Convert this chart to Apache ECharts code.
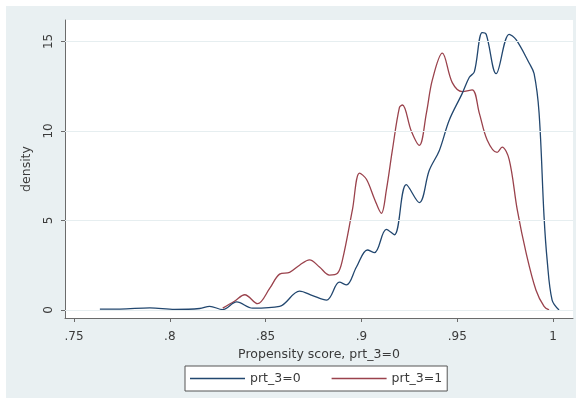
<!DOCTYPE html>
<html>
<head>
<meta charset="utf-8">
<script src="https://cdn.jsdelivr.net/npm/echarts@6/dist/echarts.min.js"></script>
<style>
  html, body { margin: 0; padding: 0; background: #ffffff; }
  #chart { width: 582px; height: 404px; }
</style>
</head>
<body>
<div id="chart"></div>
<script>
// Kernel density of the propensity score, by treatment group
const score0 = [0.7635, 0.774, 0.7896, 0.8026, 0.8156, 0.8208, 0.8276, 0.8349, 0.8432, 0.8573,
  0.8677, 0.8745, 0.8818, 0.8885, 0.8922, 0.8974, 0.9031, 0.9068, 0.913, 0.9172,
  0.9234, 0.9302, 0.9354, 0.9406, 0.9458, 0.9526, 0.9563, 0.9589, 0.963, 0.9651,
  0.9703, 0.9771, 0.9807, 0.9875, 0.9901, 0.9927, 0.9953, 0.9969, 0.9995, 1.0031];
const density0 = [0.05, 0.05, 0.12, 0.03, 0.08, 0.2, 0.02, 0.45, 0.1, 0.2,
  1.05, 0.8, 0.55, 1.55, 1.4, 2.4, 3.35, 3.2, 4.5, 4.2,
  7.0, 6.0, 7.8, 8.9, 10.6, 12.1, 13.0, 13.3, 15.5, 15.4,
  13.2, 15.4, 15.1, 13.8, 13.2, 11.0, 5.2, 2.8, 0.55, 0.0];

const score1 = [0.8276, 0.8339, 0.8391, 0.8458, 0.8521, 0.8573, 0.8625, 0.8677, 0.8729, 0.8781,
  0.8833, 0.8875, 0.8901, 0.8953, 0.899, 0.9026, 0.9068, 0.9104, 0.913, 0.9161,
  0.9198, 0.9214, 0.926, 0.9302, 0.9339, 0.937, 0.9422, 0.9474, 0.9526, 0.9578,
  0.9615, 0.9656, 0.9708, 0.9734, 0.9771, 0.9813, 0.9859, 0.9911, 0.9953, 0.9979];
const density1 = [0.1, 0.5, 0.85, 0.35, 1.2, 2.0, 2.1, 2.5, 2.8, 2.4,
  1.95, 2.05, 2.8, 5.6, 7.65, 7.3, 6.2, 5.4, 6.7, 8.9,
  11.3, 11.45, 10.0, 9.2, 11.0, 12.85, 14.35, 12.7, 12.2, 12.3,
  11.0, 9.5, 8.8, 9.1, 8.4, 5.6, 3.2, 1.1, 0.2, 0.0];

const xTicks = [0.75, 0.8, 0.85, 0.9, 0.95, 1];
const yTicks = [0, 5, 10, 15];
const seriesNames = ['prt_3=0', 'prt_3=1'];

const pairs = (xs, ys) => xs.map((x, i) => [x, ys[i]]);
const fmtX = v => {
  const s = String(Math.round(v * 100) / 100);
  return s.startsWith('0.') ? s.slice(1) : s;
};

const txt = '#3a3a3a';
const font = '"DejaVu Sans", sans-serif';

const chart = echarts.init(document.getElementById('chart'), null, { renderer: 'canvas' });
chart.setOption({
  backgroundColor: '#ffffff',
  animation: false,
  graphic: [{
    type: 'rect', z: -10, silent: true,
    shape: { x: 6, y: 6, width: 570, height: 392 },
    style: { fill: '#e9f0f2' }
  }],
  grid: { left: 65, right: 9, top: 20, bottom: 86, show: true, backgroundColor: '#ffffff', borderWidth: 0 },
  xAxis: {
    type: 'value',
    min: 0.7453, max: 1.0104,
    name: 'Propensity score, prt_3=0',
    nameLocation: 'middle', nameGap: 26,
    nameTextStyle: { color: txt, fontSize: 12.5, fontFamily: font },
    axisLine: { show: true, onZero: false, lineStyle: { color: '#6b6b6b', width: 1 } },
    axisTick: { show: true, length: 4, customValues: xTicks, lineStyle: { color: '#6b6b6b' } },
    axisLabel: { customValues: xTicks, formatter: fmtX, color: txt, fontSize: 12, fontFamily: font, margin: 13 },
    splitLine: { show: false }
  },
  yAxis: {
    type: 'value',
    min: -0.45, max: 16.2,
    name: 'density',
    nameLocation: 'middle', nameGap: 32,
    nameTextStyle: { color: txt, fontSize: 12.5, fontFamily: font },
    axisLine: { show: true, onZero: false, lineStyle: { color: '#6b6b6b', width: 1 } },
    axisTick: { show: true, length: 4, customValues: yTicks, lineStyle: { color: '#6b6b6b' } },
    axisLabel: { customValues: yTicks, rotate: 90, color: txt, fontSize: 12, fontFamily: font, margin: 10 },
    splitLine: { show: false }
  },
  legend: {
    left: 185, top: 366,
    backgroundColor: '#ffffff',
    borderColor: '#555555', borderWidth: 1, borderRadius: 0,
    padding: [6, 5, 6, 5],
    itemWidth: 55, itemHeight: 1.5, itemGap: 31,
    icon: 'rect',
    textStyle: { color: txt, fontSize: 12.5, fontFamily: font },
    data: seriesNames
  },
  series: [
    {
      name: seriesNames[0], type: 'line', data: pairs(score0, density0),
      symbol: 'none', smooth: 0.35,
      lineStyle: { color: '#22476f', width: 1.3 }, itemStyle: { color: '#22476f' },
      markLine: {
        silent: true, symbol: 'none', label: { show: false },
        lineStyle: { color: '#e6eef0', width: 1, type: 'solid' },
        data: yTicks.map(v => ({ yAxis: v }))
      },
      z: 3
    },
    {
      name: seriesNames[1], type: 'line', data: pairs(score1, density1),
      symbol: 'none', smooth: 0.35,
      lineStyle: { color: '#9a424c', width: 1.3 }, itemStyle: { color: '#9a424c' },
      z: 2
    }
  ]
});
</script>
</body>
</html>
